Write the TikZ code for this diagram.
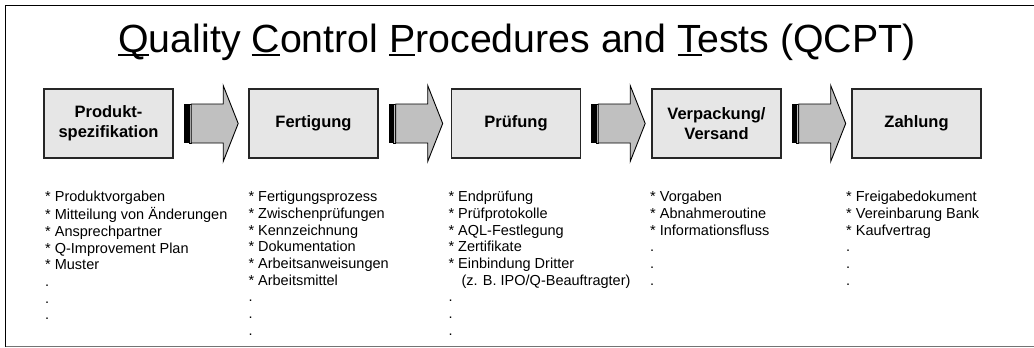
\documentclass[tikz,border=0pt]{standalone}
\usepackage{fontspec}
\setmainfont{Liberation Sans}
\usetikzlibrary{calc}
\definecolor{boxgray}{HTML}{E6E6E6}
\definecolor{arrgray}{HTML}{C0C0C0}
\newcommand\qcul[1]{\setbox0\hbox{#1}\rlap{\rule[-4pt]{\wd0}{2pt}}#1}
\begin{document}
\begin{tikzpicture}[x=1pt,y=-1pt,
  box/.style={draw=black!85, line width=1.4pt, fill=boxgray, minimum width=129pt, minimum height=69pt, inner sep=0pt, align=center, font=\fontsize{16.5}{20}\selectfont\bfseries},
  list/.style={anchor=north west, inner sep=0pt, align=left, font=\fontsize{14.5}{16.65}\selectfont},
  sarrow/.pic={
    \fill[black] (0,-19.5) rectangle (5,19.5);
    \filldraw[fill=arrgray, draw=black, line width=0.6pt] (5,-19.5) rectangle (7,19.5);
    \filldraw[fill=arrgray, draw=black, line width=0.9pt, line join=miter]
      (7,-19.5) -- (39,-19.5) -- (39,-38) -- (54,0) -- (39,38) -- (39,19.5) -- (7,19.5) -- cycle;
  }
]
\useasboundingbox (0,0) rectangle (1034,348);
\fill[white] (0,0) rectangle (1034,348);
% frame
\draw[line width=1.5pt] (1034,5.5) -- (5.5,5.5) -- (5.5,346.5);
\draw[line width=1.5pt, black!55] (5.5,346.5) -- (1034,346.5);
% title
\node[anchor=base, inner sep=0pt, font=\fontsize{39.3}{44}\selectfont] (title) at (517,52)
  {\qcul{Q}uality \qcul{C}ontrol \qcul{P}rocedures and \qcul{T}ests (QCPT)};
% boxes
\node[box] (b1) at (108.5,123.5) {Produkt-\\spezifikation};
\node[box] (b2) at (313.5,123.5) {Fertigung};
\node[box] (b3) at (516,123.5) {Prüfung};
\node[box] (b4) at (716.5,123.5) {Verpackung/\\Versand};
\node[box] (b5) at (916.5,123.5) {Zahlung};
% arrows
\path ($(b1.east)+(10.5,0)$) pic {sarrow};
\path ($(b2.east)+(10,0)$) pic {sarrow};
\path ($(b3.east)+(10,0)$) pic {sarrow};
\path ($(b4.east)+(10,0)$) pic {sarrow};
% lists
\node[list] (l1) at (45,190) {\strut* Produktvorgaben\\* Mitteilung von Änderungen\\* Ansprechpartner\\* Q-Improvement Plan\\* Muster\\.\\.\\.};
\node[list] (l2) at (248.3,190) {\strut* Fertigungsprozess\\* Zwischenprüfungen\\* Kennzeichnung\\* Dokumentation\\* Arbeitsanweisungen\\* Arbeitsmittel\\.\\.\\.};
\node[list] (l3) at (448.3,190) {\strut* Endprüfung\\* Prüfprotokolle\\* AQL-Festlegung\\* Zertifikate\\* Einbindung Dritter\\\hspace*{13pt}(z. B. IPO/Q-Beauftragter)\\.\\.\\.};
\node[list] (l4) at (650,190) {\strut* Vorgaben\\* Abnahmeroutine\\* Informationsfluss\\.\\.\\.};
\node[list] (l5) at (846,190) {\strut* Freigabedokument\\* Vereinbarung Bank\\* Kaufvertrag\\.\\.\\.};
\end{tikzpicture}
\end{document}
